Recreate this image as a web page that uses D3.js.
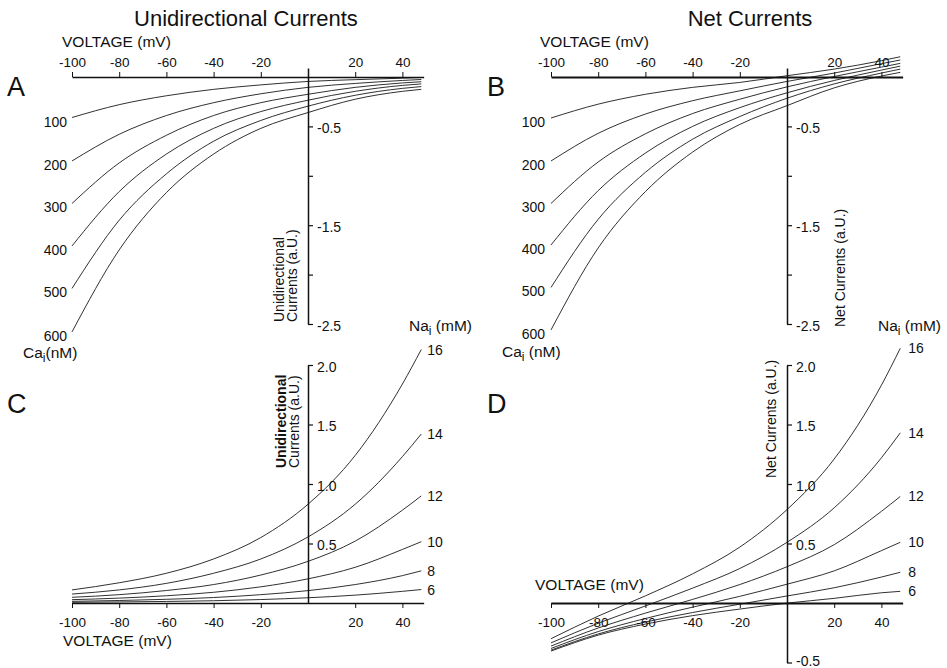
<!DOCTYPE html>
<html>
<head>
<meta charset="utf-8">
<script src="https://cdn.jsdelivr.net/npm/d3@7"></script>
<style>
  body { margin: 0; background: #fff; }
  svg { display: block; font-family: "Liberation Sans", Arial, Helvetica, sans-serif; }
  .axis path, .axis line { stroke: #111; }
  .axis text { fill: #111; font-family: "Liberation Sans", Arial, sans-serif; }
</style>
</head>
<body>
<svg width="947" height="668"></svg>
<script>
// voltages at which the curves were read (mV)
const voltages = [-100, -80, -60, -40, -20, 0, 20, 40, 48];
const xTicks = [-100, -80, -60, -40, -20, 20, 40];

// Ca_i levels (nM) for panels A and B
const caLevels = [100, 200, 300, 400, 500, 600];
// Na_i levels (mM) for panels C and D
const naLevels = [16, 14, 12, 10, 8, 6];

// A: unidirectional currents vs Ca_i
const uniCa100 = [-0.41, -0.28, -0.19, -0.125, -0.08, -0.045, -0.027, -0.012, -0.005];
const uniCa200 = [-0.85, -0.58, -0.39, -0.26, -0.17, -0.105, -0.065, -0.035, -0.025];
const uniCa300 = [-1.28, -0.87, -0.59, -0.39, -0.26, -0.175, -0.105, -0.06, -0.048];
const uniCa400 = [-1.71, -1.16, -0.78, -0.52, -0.35, -0.235, -0.145, -0.085, -0.07];
const uniCa500 = [-2.14, -1.45, -0.98, -0.65, -0.44, -0.295, -0.185, -0.115, -0.097];
const uniCa600 = [-2.58, -1.75, -1.17, -0.78, -0.52, -0.36, -0.225, -0.145, -0.125];

// B: net currents vs Ca_i
const netCa100 = [-0.415, -0.275, -0.175, -0.105, -0.055, 0.013, 0.08, 0.165, 0.205];
const netCa200 = [-0.85, -0.57, -0.375, -0.24, -0.14, -0.045, 0.04, 0.135, 0.172];
const netCa300 = [-1.28, -0.86, -0.575, -0.37, -0.225, -0.10, 0.005, 0.10, 0.138];
const netCa400 = [-1.70, -1.15, -0.77, -0.50, -0.31, -0.16, -0.035, 0.07, 0.11];
const netCa500 = [-2.13, -1.44, -0.965, -0.63, -0.40, -0.215, -0.07, 0.04, 0.08];
const netCa600 = [-2.56, -1.73, -1.16, -0.76, -0.48, -0.29, -0.11, 0.01, 0.047];

// C: unidirectional currents vs Na_i
const uniNa16 = [0.11, 0.17, 0.25, 0.37, 0.55, 0.83, 1.24, 1.84, 2.13];
const uniNa14 = [0.075, 0.11, 0.165, 0.25, 0.37, 0.555, 0.83, 1.23, 1.42];
const uniNa12 = [0.048, 0.07, 0.105, 0.155, 0.235, 0.35, 0.52, 0.78, 0.90];
const uniNa10 = [0.028, 0.041, 0.061, 0.09, 0.136, 0.203, 0.30, 0.45, 0.515];
const uniNa8 = [0.014, 0.021, 0.031, 0.046, 0.07, 0.104, 0.155, 0.23, 0.27];
const uniNa6 = [0.006, 0.009, 0.013, 0.019, 0.029, 0.044, 0.066, 0.098, 0.113];

// D: net currents vs Na_i
const netNa16 = [-0.30, -0.11, 0.06, 0.245, 0.47, 0.785, 1.21, 1.83, 2.14];
const netNa14 = [-0.335, -0.17, -0.025, 0.125, 0.29, 0.51, 0.80, 1.22, 1.43];
const netNa12 = [-0.362, -0.21, -0.085, 0.03, 0.155, 0.305, 0.49, 0.77, 0.895];
const netNa10 = [-0.382, -0.24, -0.13, -0.035, 0.056, 0.158, 0.27, 0.44, 0.51];
const netNa8 = [-0.396, -0.26, -0.16, -0.08, -0.01, 0.059, 0.128, 0.218, 0.258];
const netNa6 = [-0.404, -0.27, -0.177, -0.106, -0.051, -0.001, 0.039, 0.086, 0.098];

const svg = d3.select("svg");
svg.append("rect").attr("width", 947).attr("height", 668).attr("fill", "#fff");

const xLeft = d3.scaleLinear().domain([-100, 0]).range([72, 308]);
const xRight = d3.scaleLinear().domain([-100, 0]).range([551, 787]);
const yTop = d3.scaleLinear().domain([0, -2.5]).range([77, 324]);
const yBottom = d3.scaleLinear().domain([0, 2.0]).range([603, 365]);

const fmt = d => String(d);

function drawCurves(x, y, series) {
    const line = d3.line()
        .x((d, i) => x(voltages[i]))
        .y(d => y(d))
        .curve(d3.curveMonotoneX);
    svg.append("g")
        .selectAll("path")
        .data(series)
        .enter()
        .append("path")
        .attr("d", d => line(d))
        .attr("fill", "none")
        .attr("stroke", "#1a1a1a")
        .attr("stroke-width", 0.9);
}

function xAxis(x, yPos, top, width) {
    const s = d3.scaleLinear().domain([-100, 49]).range([x(-100), x(49)]);
    const ax = (top ? d3.axisTop(s) : d3.axisBottom(s))
        .tickValues(xTicks).tickFormat(fmt).tickSize(5).tickSizeOuter(0).tickPadding(top ? 5 : 9);
    const g = svg.append("g").attr("class", "axis")
        .attr("transform", `translate(0,${yPos})`).call(ax);
    g.select(".domain").attr("stroke-width", width);
    g.selectAll(".tick line").attr("stroke-width", 1);
    g.selectAll(".tick text").attr("font-size", 13.5);
}

function yAxis(y, xPos, domain, ticks, labelled) {
    const s = y.copy().domain(domain).range(domain.map(y));
    const ax = d3.axisRight(s).tickValues(ticks).tickSize(5).tickSizeOuter(0).tickPadding(4)
        .tickFormat(d => labelled.includes(d) ? d.toFixed(1) : "");
    const g = svg.append("g").attr("class", "axis")
        .attr("transform", `translate(${xPos},0)`).call(ax);
    g.select(".domain").attr("stroke-width", 1.5);
    g.selectAll(".tick line").attr("stroke-width", 1.2);
    g.selectAll(".tick text").attr("font-size", 14).attr("dy", "0.45em");
    return g;
}

function text(x, y, str, size, opts = {}) {
    return svg.append("text")
        .attr("x", x).attr("y", y)
        .attr("font-size", size)
        .attr("fill", "#111")
        .attr("text-anchor", opts.anchor || "start")
        .attr("font-weight", opts.weight || "normal")
        .text(str);
}

function subLabel(x, y, main, sub, rest) {
    const t = svg.append("text").attr("x", x).attr("y", y)
        .attr("font-size", 15.5).attr("fill", "#111");
    t.append("tspan").text(main);
    t.append("tspan").attr("dy", 4).attr("font-size", 12).text(sub);
    t.append("tspan").attr("dy", -4).text(rest);
}

function rotated(x, y, str, size, weight) {
    svg.append("text")
        .attr("transform", `translate(${x},${y}) rotate(-90)`)
        .attr("font-size", size)
        .attr("font-weight", weight || "normal")
        .attr("fill", "#111")
        .text(str);
}

// titles
text(246, 26, "Unidirectional Currents", 22, { anchor: "middle" });
text(750, 26, "Net Currents", 22, { anchor: "middle" });

// panel letters
text(7, 96, "A", 27);
text(487, 96, "B", 27);
text(7, 413, "C", 27);
text(487, 413, "D", 27);

// ---- A ----
const seriesA = [uniCa100, uniCa200, uniCa300, uniCa400, uniCa500, uniCa600];
drawCurves(xLeft, yTop, seriesA);
xAxis(xLeft, 77, true, 1.5);
yAxis(yTop, 308, [0.09, -2.5], [-0.5, -1, -1.5, -2, -2.5], [-0.5, -1.5, -2.5]);
text(62, 47, "VOLTAGE (mV)", 15.5);
seriesA.forEach((s, i) => text(xLeft(-100) - 5, yTop(s[0]) + 9, caLevels[i], 14, { anchor: "end" }));
subLabel(23, 358, "Ca", "i", "(nM)");
rotated(284, 322, "Unidirectional", 14);
rotated(297, 322, "Currents (a.U.)", 14);

// ---- B ----
const seriesB = [netCa100, netCa200, netCa300, netCa400, netCa500, netCa600];
drawCurves(xRight, yTop, seriesB);
xAxis(xRight, 77, true, 2);
yAxis(yTop, 787, [0.09, -2.5], [-0.5, -1, -1.5, -2, -2.5], [-0.5, -1.5, -2.5]);
text(540, 47, "VOLTAGE (mV)", 15.5);
seriesB.forEach((s, i) => text(xRight(-100) - 6, yTop(s[0]) + 9, caLevels[i], 14, { anchor: "end" }));
subLabel(502, 357, "Ca", "i", " (nM)");
rotated(845, 327, "Net Currents (a.U.)", 14);

// ---- C ----
const seriesC = [uniNa16, uniNa14, uniNa12, uniNa10, uniNa8, uniNa6];
drawCurves(xLeft, yBottom, seriesC);
xAxis(xLeft, 603, false, 1.5);
yAxis(yBottom, 308, [2.0, 0], [2.0, 1.5, 1.0, 0.5], [2.0, 1.5, 1.0, 0.5]);
text(63, 646, "VOLTAGE (mV)", 15.5);
seriesC.forEach((s, i) => text(xLeft(48) + 6, yBottom(s[s.length - 1]) + 5, naLevels[i], 14));
subLabel(409, 331, "Na", "i", " (mM)");
rotated(286, 468, "Unidirectional", 14, "bold");
rotated(299, 468, "Currents (a.U.)", 14);

// ---- D ----
const seriesD = [netNa16, netNa14, netNa12, netNa10, netNa8, netNa6];
drawCurves(xRight, yBottom, seriesD);
xAxis(xRight, 603, false, 2);
const gD = yAxis(yBottom, 787, [2.0, -0.5], [2.0, 1.5, 1.0, 0.5, -0.5], [2.0, 1.5, 1.0, 0.5, -0.5]);
gD.selectAll(".tick text").filter(d => d === -0.5).attr("dy", "0.2em");
text(535, 590, "VOLTAGE (mV)", 15.5);
seriesD.forEach((s, i) => text(xRight(48) + 8, yBottom(s[s.length - 1]) + 5, naLevels[i], 14));
subLabel(878, 331, "Na", "i", " (mM)");
rotated(776, 478, "Net Currents (a.U.)", 14);
</script>
</body>
</html>
